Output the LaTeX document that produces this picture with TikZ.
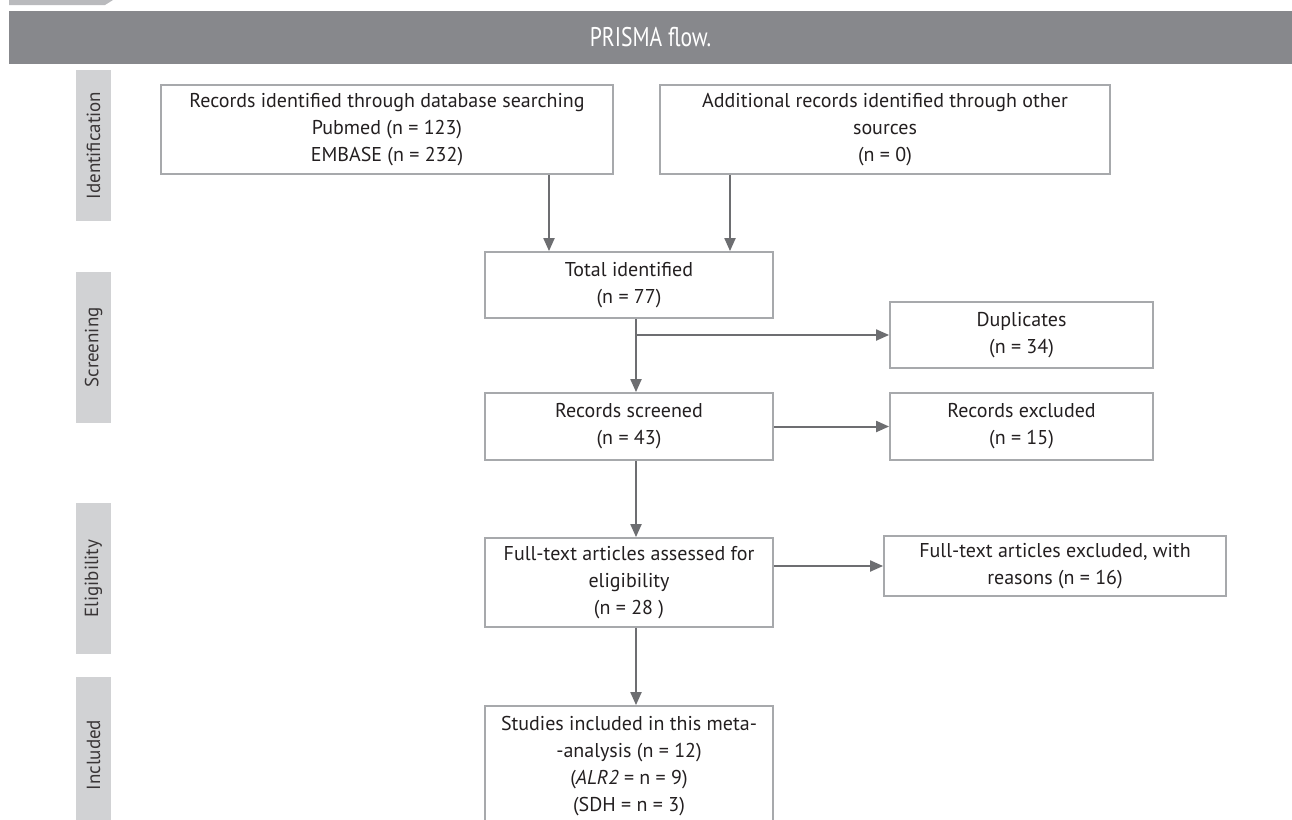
\documentclass[tikz,border=0pt]{standalone}
\usepackage{fontspec}
\setmainfont{PT Sans}
\newfontfamily\fonttitre[FakeStretch=0.8]{PT Sans}
\usetikzlibrary{arrows.meta}
\definecolor{bandeau}{HTML}{87888C}
\definecolor{onglet}{HTML}{D1D2D4}
\definecolor{bord}{HTML}{A7A9AC}
\definecolor{trait}{HTML}{6D6E71}
\definecolor{encre}{HTML}{231F20}
\tikzset{boite/.style={draw=bord, line width=1.8pt, align=center, inner sep=0pt,
                       text=encre, font=\fontsize{20}{27}\selectfont},
         fleche/.style={draw=trait, line width=2pt, -{Triangle[length=13pt,width=11pt]}},
         etape/.style={fill=onglet, minimum height=35pt, rotate=90, inner sep=0pt,
                       text=encre!90, font=\fontsize{19}{22}\selectfont}}

\begin{document}
\begin{tikzpicture}[x=1pt,y=-1pt]
\useasboundingbox (0,0) rectangle (1292,819);
% Header:
\fill[bord!80] (9,0) -- (113,0) -- (105,5) -- (9,5) -- cycle;
\fill[bandeau] (9,11) rectangle (1292,64);
\node[text=white, font=\fonttitre\fontsize{27}{27}\selectfont] (titre) at (650.5,37.5) {PRISMA flow.};
% Stages on the left:
\node[etape, minimum width=151pt] (ident) at (93.5,145.5) {Identification};
\node[etape, minimum width=151pt] (screen) at (93.5,347.5) {Screening};
\node[etape, minimum width=151pt] (elig) at (93.5,578.5) {Eligibility};
\node[etape, minimum width=156pt] (incl) at (93.5,755) {Included};
% Boxes:
\node[boite, minimum width=452pt, minimum height=89pt] (base) at (387,129.5)
  {Records identified through database searching\\Pubmed (n = 123)\\EMBASE (n = 232)};
\node[boite, minimum width=450pt, minimum height=89pt] (autres) at (885,129.5)
  {Additional records identified through other\\sources\\(n = 0)};
\node[boite, minimum width=288pt, minimum height=66pt] (total) at (629,285)
  {Total identified\\(n = 77)};
\node[boite, minimum width=263pt, minimum height=66pt] (dup) at (1021.5,335)
  {Duplicates\\(n = 34)};
\node[boite, minimum width=288pt, minimum height=67pt] (tries) at (629,426.5)
  {Records screened\\(n = 43)};
\node[boite, minimum width=263pt, minimum height=67pt] (excl) at (1021.5,426.5)
  {Records excluded\\(n = 15)};
\node[boite, minimum width=288pt, minimum height=89pt] (texte) at (629,582.5)
  {Full-text articles assessed for\\eligibility\\(n = 28 )};
\node[boite, minimum width=342pt, minimum height=60pt] (exclu) at (1055,566)
  {Full-text articles excluded, with\\reasons (n = 16)};
\node[boite, minimum width=288pt, minimum height=120pt] (inclus) at (629,766)
  {Studies included in this meta-\\-analysis (n = 12)\\(\textit{ALR2} = n = 9)\\(SDH = n = 3)};
% Arrows:
\coordinate (axe) at (636,0);
\coordinate (a1) at (549,0);
\coordinate (a2) at (730,0);
\draw[fleche] (base.south -| a1) -- (total.north -| a1);
\draw[fleche] (autres.south -| a2) -- (total.north -| a2);
\draw[fleche] (total.south -| axe) -- (tries.north -| axe);
\draw[fleche] (axe |- dup.west) -- (dup.west);
\draw[fleche] (tries.east) -- (excl.west);
\draw[fleche] (tries.south -| axe) -- (texte.north -| axe);
\draw[fleche] (texte.east |- exclu.west) -- (exclu.west);
\draw[fleche] (texte.south -| axe) -- (inclus.north -| axe);
\end{tikzpicture}
\end{document}
